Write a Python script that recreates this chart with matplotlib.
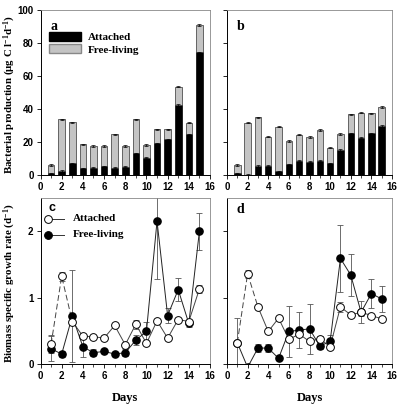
import matplotlib
matplotlib.use('Agg')
import matplotlib.pyplot as plt
from matplotlib.patches import Patch
from matplotlib.ticker import MultipleLocator

plt.rcParams['mathtext.fontset'] = 'custom'
plt.rcParams['mathtext.rm'] = 'Liberation Serif:bold'
plt.rcParams['mathtext.default'] = 'rm'

# 数据
days = list(range(1, 16))

# a / b: bacterial production (attached, total)
prod_a_att = [1.0, 2.4, 7.1, 4.0, 4.4, 5.3, 4.4, 5.0, 13.1, 10.5, 19.2, 21.6, 42.4, 24.6, 74.3]
prod_a_tot = [6.1, 33.7, 31.9, 18.6, 17.6, 17.6, 24.6, 17.6, 33.7, 18.2, 27.7, 27.7, 53.5, 31.7, 90.9]
prod_b_att = [1.0, 0.0, 5.5, 5.7, 2.2, 6.5, 8.7, 8.1, 8.7, 7.1, 15.2, 25.3, 22.6, 25.3, 29.7]
prod_b_tot = [6.0, 31.7, 35.0, 23.2, 29.3, 20.6, 24.4, 23.0, 27.3, 16.6, 24.8, 36.8, 37.8, 37.4, 41.2]

# c / d: growth rate
grow_c_att = [0.30, 1.32, 0.64, 0.42, 0.41, 0.39, 0.58, 0.29, 0.60, 0.31, 0.65, 0.39, 0.67, 0.64, 1.13]
grow_c_att_err = [0.13, 0.07, 0.02, 0.02, 0.02, 0.02, 0.02, 0.02, 0.07, 0.02, 0.02, 0.02, 0.02, 0.03, 0.06]
grow_c_free = [0.23, 0.15, 0.72, 0.26, 0.17, 0.19, 0.15, 0.17, 0.36, 0.49, 2.15, 0.73, 1.12, 0.61, 2.00]
grow_c_free_err = [0.19, 0.05, 0.69, 0.15, 0.05, 0.03, 0.02, 0.05, 0.08, 0.15, 0.87, 0.12, 0.17, 0.05, 0.28]

grow_d_att = [0.32, 1.36, 0.86, 0.49, 0.69, 0.37, 0.45, 0.34, 0.38, 0.26, 0.86, 0.74, 0.78, 0.73, 0.68]
grow_d_att_err = [0.02, 0.06, 0.02, 0.02, 0.02, 0.02, 0.02, 0.02, 0.04, 0.03, 0.07, 0.02, 0.17, 0.02, 0.02]
grow_d_free = [0.32, -0.05, 0.24, 0.24, 0.085, 0.49, 0.51, 0.53, 0.27, 0.34, 1.59, 1.34, 0.78, 1.06, 0.98]
grow_d_free_err = [0.37, 0.0, 0.06, 0.06, 0.02, 0.38, 0.27, 0.38, 0.05, 0.10, 0.50, 0.32, 0.05, 0.22, 0.19]

W, H = 401, 413
fig = plt.figure(figsize=(W / 100, H / 100), dpi=100)

serif = 'Liberation Serif'
sans = 'Liberation Sans'


def box(x0, x1, y_top, y_bot):
    return [x0 / W, 1 - y_bot / H, (x1 - x0) / W, (y_bot - y_top) / H]


def style_ax(ax, ymax, ystep, show_y):
    ax.set_xlim(0, 16)
    ax.set_ylim(0, ymax)
    ax.xaxis.set_major_locator(MultipleLocator(2))
    ax.xaxis.set_minor_locator(MultipleLocator(1))
    ax.yaxis.set_major_locator(MultipleLocator(ystep))
    ax.tick_params(direction='out', length=3, width=0.6, labelsize=7, pad=2)
    ax.tick_params(which='minor', direction='out', length=2, width=0.5)
    for lab in ax.get_xticklabels() + ax.get_yticklabels():
        lab.set_fontfamily(sans)
        lab.set_fontweight('bold')
    if not show_y:
        ax.set_yticklabels([])
    for s in ['top', 'right']:
        ax.spines[s].set_color('#888888')
        ax.spines[s].set_linewidth(0.6)
    for s in ['left', 'bottom']:
        ax.spines[s].set_linewidth(0.7)


ax_a = fig.add_axes(box(40.5, 210, 10, 175))
ax_b = fig.add_axes(box(227, 392, 10, 175))
ax_c = fig.add_axes(box(40.5, 210, 198, 364))
ax_d = fig.add_axes(box(227, 392, 198, 364))

# 柱状图
for ax, att, tot in [(ax_a, prod_a_att, prod_a_tot), (ax_b, prod_b_att, prod_b_tot)]:
    free = [t - a for a, t in zip(att, tot)]
    ax.bar(days, att, width=0.62, color='black', edgecolor='black', linewidth=0.5,
           yerr=0.4, capsize=1.5, error_kw=dict(elinewidth=0.5, capthick=0.5, ecolor='black'))
    ax.bar(days, free, bottom=att, width=0.62, color='#c4c4c4', edgecolor='#333333', linewidth=0.5,
           yerr=0.4, capsize=1.5, error_kw=dict(elinewidth=0.5, capthick=0.5, ecolor='black'))

style_ax(ax_a, 100, 20, True)
style_ax(ax_b, 100, 20, False)

ax_a.legend(handles=[Patch(facecolor='black', edgecolor='black', label='Attached'),
                     Patch(facecolor='#c4c4c4', edgecolor='#888888', label='Free-living')],
            loc='upper left', bbox_to_anchor=(-0.01, 0.93), frameon=False,
            handlelength=2.9, handleheight=0.9, handletextpad=0.6, labelspacing=0.2,
            prop=dict(family=serif, weight='bold', size=8))

# 折线图
for ax, att, att_e, free, free_e in [(ax_c, grow_c_att, grow_c_att_err, grow_c_free, grow_c_free_err),
                                     (ax_d, grow_d_att, grow_d_att_err, grow_d_free, grow_d_free_err)]:
    ax.errorbar(days, free, yerr=free_e, fmt='none', ecolor='#555555', elinewidth=0.6,
                capsize=2.2, capthick=0.6, zorder=1)
    ax.errorbar(days, att, yerr=att_e, fmt='none', ecolor='#555555', elinewidth=0.6,
                capsize=2.2, capthick=0.6, zorder=1)
    ax.plot(days[:3], att[:3], color='#444444', lw=0.7, dashes=(6, 3), zorder=2)
    ax.plot(days[2:], att[2:], color='#444444', lw=0.7, zorder=2)
    ax.plot(days, free, color='#222222', lw=0.7, zorder=2)
    ax.plot(days, free, 'o', color='black', ms=5.2, zorder=3)
    ax.plot(days, att, 'o', mfc='white', mec='black', mew=0.7, ms=5.6, zorder=4)

style_ax(ax_c, 2.5, 1, True)
style_ax(ax_d, 2.5, 1, False)

# 图例（c）：圆点在左，线向右延伸
for yy, mfc, label in [(0.875, 'white', 'Attached'), (0.78, 'black', 'Free-living')]:
    ax_c.plot([0.045, 0.14], [yy, yy], transform=ax_c.transAxes, color='#333333', lw=0.7, zorder=5)
    ax_c.plot([0.045], [yy], 'o', transform=ax_c.transAxes, mfc=mfc, mec='black', mew=0.7,
              ms=5.6, zorder=6)
    ax_c.text(0.19, yy, label, transform=ax_c.transAxes, family=serif, weight='bold', size=8,
              va='center')

# 字母
ax_a.text(0.06, 0.94, 'a', transform=ax_a.transAxes, family=serif, weight='bold', size=10, va='top')
ax_b.text(0.06, 0.94, 'b', transform=ax_b.transAxes, family=serif, weight='bold', size=10, va='top')
ax_c.text(0.05, 0.975, 'c', transform=ax_c.transAxes, family=sans, weight='bold', size=9, va='top')
ax_d.text(0.06, 0.97, 'd', transform=ax_d.transAxes, family=serif, weight='bold', size=10, va='top')

# 坐标轴标题
fig.text(10 / W, 1 - 95 / H, r'Bacterial production ($\mu$g C l$^{-1}$d$^{-1}$)', rotation=90,
         ha='center', va='center', family=serif, weight='bold', size=7.8)
fig.text(10 / W, 1 - 283 / H, r'Biomass specific growth rate (d$^{-1}$)', rotation=90,
         ha='center', va='center', family=serif, weight='bold', size=7.8)
fig.text(125 / W, 1 - 398 / H, 'Days', ha='center', va='center', family=serif, weight='bold', size=9)
fig.text(310 / W, 1 - 398 / H, 'Days', ha='center', va='center', family=serif, weight='bold', size=9)

fig.savefig('out.png', dpi=100)
